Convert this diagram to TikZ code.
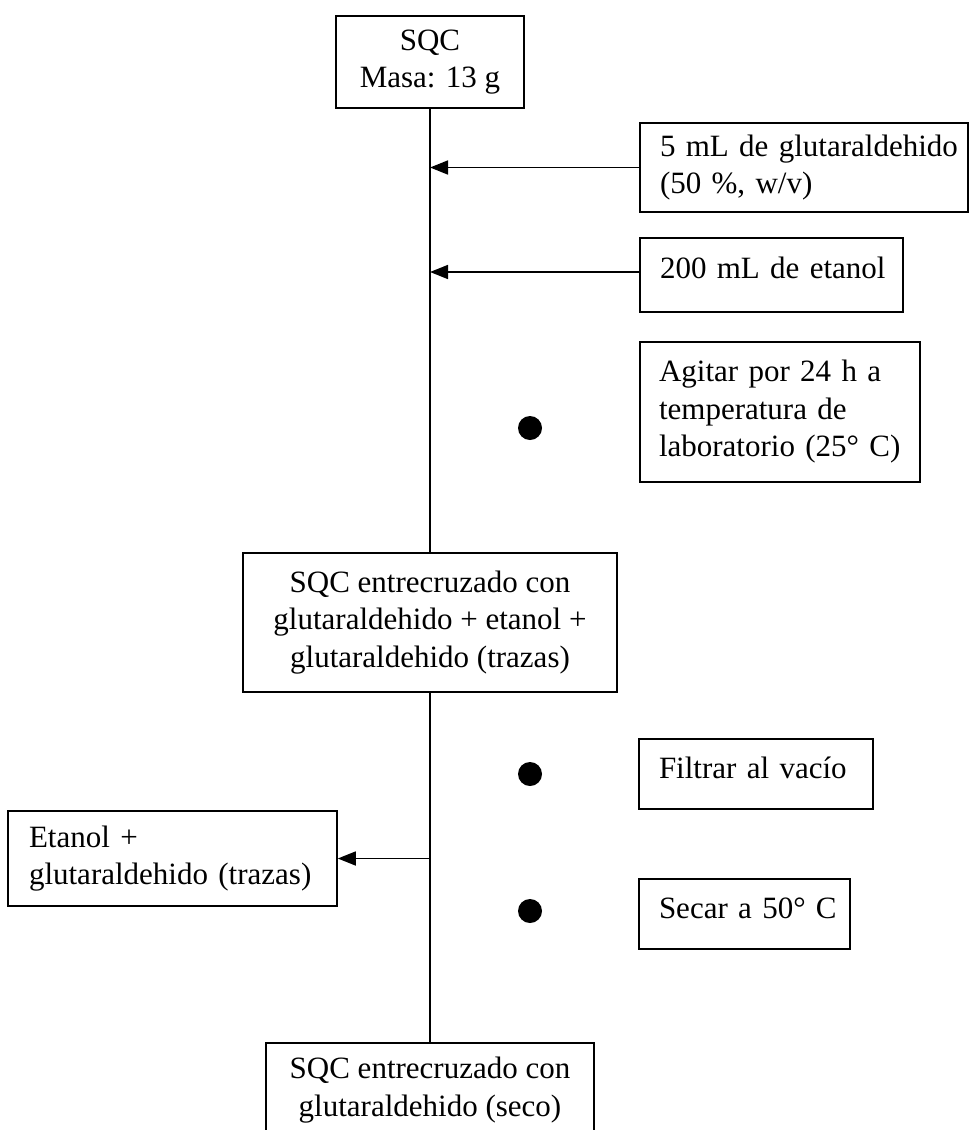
\documentclass[tikz,border=0pt]{standalone}
\usepackage{fontspec}
\setmainfont{Liberation Serif}
\usetikzlibrary{arrows.meta}
\newcommand{\boxfont}{\fontsize{31pt}{37.5pt}\selectfont}
\tikzset{
  procbox/.style={draw, line width=1.6pt, inner xsep=20pt, inner ysep=0pt, font=\boxfont, anchor=center},
  leftbox/.style={procbox, align=left},
  midbox/.style={procbox, align=center},
  flow/.style={line width=1.6pt},
  feed/.style={line width=1.6pt, -{Triangle[length=18pt,width=14pt]}},
  stepdot/.style={circle, fill=black, inner sep=0pt, minimum size=24pt}
}
\begin{document}
\begin{tikzpicture}[x=1pt, y=-1pt]
\useasboundingbox (0,0) rectangle (970,1130);

% main column of products
\node[midbox, minimum width=188pt, minimum height=92pt] (sqc) at (430,62) {SQC\\Masa: 13 g};
\node[midbox, minimum width=374pt, minimum height=139pt] (mid) at (430,622.5)
  {SQC entrecruzado con\\glutaraldehido + etanol +\\glutaraldehido (trazas)};
\node[midbox, minimum width=328pt, minimum height=94pt] (final) at (430,1090)
  {SQC entrecruzado con\\glutaraldehido (seco)};

% reagents added
\node[leftbox, text width=288pt, minimum height=89pt] (glut) at (804,167.5)
  {\mbox{5 mL de glutaraldehido}\\\mbox{(50 \%, w/v)}};
\node[leftbox, text width=223pt, minimum height=74pt, text depth=14pt] (etoh) at (771.5,275)
  {\mbox{200 mL de etanol}};

% operations
\node[leftbox, inner xsep=19pt, text width=242pt, minimum height=140pt] (agitar) at (780,412)
  {\mbox{Agitar por 24 h a}\\\mbox{temperatura de}\\\mbox{laboratorio (25° C)}};
\node[leftbox, text width=194pt, minimum height=70pt, text depth=12pt] (filtrar) at (756,774)
  {\mbox{Filtrar al vacío}};
\node[leftbox, text width=171pt, minimum height=70pt, text depth=12pt] (secar) at (744.5,914)
  {\mbox{Secar a 50° C}};

% residue removed
\node[leftbox, inner xsep=21pt, text width=287pt, minimum height=95pt] (residuo) at (172.5,858.5)
  {\mbox{Etanol +}\\\mbox{glutaraldehido (trazas)}};

% bullets for the operations
\node[stepdot] (d1) at (530,428) {};
\node[stepdot] (d2) at (530,774) {};
\node[stepdot] (d3) at (530,911) {};

% main flow line
\draw[flow] (sqc.south) -- (mid.north);
\draw[flow] (mid.south) -- (final.north);

% side streams
\draw[feed] (glut.west) -- (sqc.south |- glut.west);
\draw[feed] (etoh.west |- 0,272) -- (sqc.south |- 0,272);
\draw[feed] (mid.south |- residuo.east) -- (residuo.east);
\end{tikzpicture}
\end{document}
